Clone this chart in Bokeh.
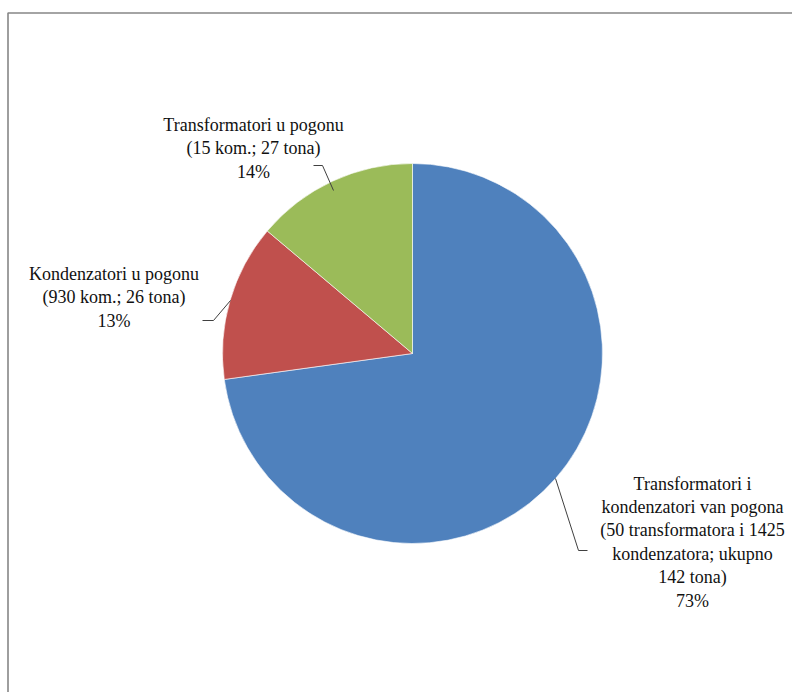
import math
from bokeh.plotting import figure
from bokeh.models import Range1d, ColumnDataSource
from bokeh.core.properties import value
from bokeh.embed import file_html
from bokeh.resources import INLINE

# ---- data ----
categories = [
    "Transformatori i kondenzatori van pogona",
    "Kondenzatori u pogonu",
    "Transformatori u pogonu",
]
tons = [142, 26, 27]
labels = [
    "Transformatori i\nkondenzatori van pogona\n(50 transformatora i 1425\nkondenzatora; ukupno\n142 tona)\n73%",
    "Kondenzatori u pogonu\n(930 kom.; 26 tona)\n13%",
    "Transformatori u pogonu\n(15 kom.; 27 tona)\n14%",
]
colors = ["#4F81BD", "#C0504D", "#9BBB59"]

# ---- layout (pixels) ----
W, H = 792, 692
cx, cy, R = 412, 339, 190
label_pos = [(692, 150.5), (113.5, 395), (253, 544)]
leaders = [
    ([555, 578, 587], [214, 142, 142]),
    ([202, 213, 230], [372, 372, 392]),
    ([313, 322, 333], [527, 527, 502]),
]

total = sum(tons)
starts, ends = [], []
cum = 0.0
for t in tons:
    a0 = math.pi / 2 - 2 * math.pi * (cum + t) / total
    a1 = math.pi / 2 - 2 * math.pi * cum / total
    starts.append(a0)
    ends.append(a1)
    cum += t

p = figure(width=W, height=H, output_backend="svg", toolbar_location=None,
           x_range=Range1d(0, W), y_range=Range1d(0, H), min_border=0)
p.axis.visible = False
p.grid.visible = False
p.outline_line_color = None

src = ColumnDataSource(dict(start=starts, end=ends, color=colors, cat=categories))
p.wedge(x=cx, y=cy, radius=R, start_angle="start", end_angle="end",
        fill_color="color", line_color="white", line_width=0.6, source=src)

p.multi_line(xs=[l[0] for l in leaders], ys=[l[1] for l in leaders],
             line_color="#404040", line_width=1)

p.text(x=[lp[0] for lp in label_pos], y=[lp[1] for lp in label_pos], text=labels,
       text_align="center", text_baseline="middle", text_font=value("Liberation Serif"),
       text_font_size="18px", text_line_height=1.17, text_color="#111111")

# chart area border (left and top visible)
p.line(x=[7.5, 7.5, W], y=[0, 679.5, 679.5], line_color="#868686", line_width=1.6)

open("out.html", "w").write(file_html(p, INLINE))
